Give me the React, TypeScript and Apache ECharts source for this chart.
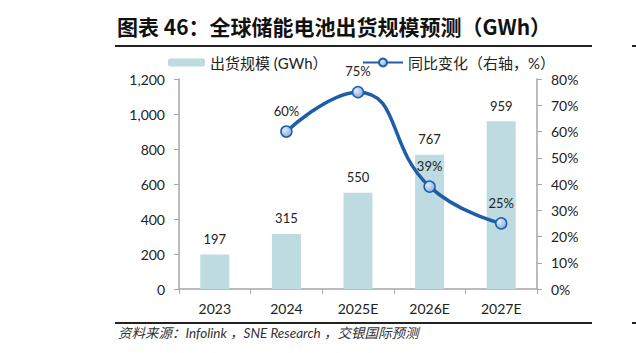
import React, { useEffect, useRef } from "react";
import * as echarts from "echarts";

const categories = ["2023", "2024", "2025E", "2026E", "2027E"];
const shipments = [197, 315, 550, 767, 959];
const yoy = [null, 60, 75, 39, 25];
const leftTicks = { min: 0, max: 1200, interval: 200 };
const rightTicks = { min: 0, max: 80, interval: 10 };
const titleText = "图表 46：全球储能电池出货规模预测（GWh）";
const sourceText = "资料来源：Infolink ，SNE Research ，交银国际预测";
const barName = "出货规模 (GWh）";
const lineName = "同比变化（右轴，%）";

const FONT = "Lato, 'Noto Sans CJK SC', sans-serif";

export default function App() {
  const ref = useRef<HTMLDivElement>(null);
  useEffect(() => {
    document.body.style.margin = "0";
    const chart = echarts.init(ref.current!, null, { renderer: "svg" });
    chart.setOption({
      animation: false,
      backgroundColor: "#ffffff",
      textStyle: { fontFamily: FONT },
      grid: { left: 179, right: 99, top: 79, bottom: 64, containLabel: false },
      legend: [
        {
          data: [barName],
          left: 163,
          top: 50,
          itemWidth: 37,
          itemHeight: 8,
          itemGap: 5,
          textStyle: { fontSize: 15, color: "#222", fontFamily: FONT },
        },
        {
          data: [lineName],
          left: 357,
          top: 50,
          itemWidth: 40,
          itemHeight: 10,
          textStyle: { fontSize: 15, color: "#222", fontFamily: FONT },
        },
      ],
      xAxis: {
        type: "category",
        data: categories,
        axisLine: { lineStyle: { color: "#a6a6a6", width: 1.5 } },
        axisTick: { show: true, length: 5, alignWithLabel: false, lineStyle: { color: "#a6a6a6" } },
        axisLabel: { fontSize: 14, color: "#222", margin: 12, fontFamily: FONT },
      },
      yAxis: [
        {
          type: "value",
          min: leftTicks.min,
          max: leftTicks.max,
          interval: leftTicks.interval,
          splitLine: { show: false },
          axisLine: { show: true, lineStyle: { color: "#a6a6a6", width: 1.5 } },
          axisTick: { show: true, length: 5, lineStyle: { color: "#a6a6a6" } },
          axisLabel: {
            fontSize: 14,
            color: "#222",
            margin: 14,
            fontFamily: FONT,
            formatter: (v: number) => v.toLocaleString("en-US"),
          },
        },
        {
          type: "value",
          min: rightTicks.min,
          max: rightTicks.max,
          interval: rightTicks.interval,
          position: "right",
          splitLine: { show: false },
          axisLine: { show: true, lineStyle: { color: "#a6a6a6", width: 1.5 } },
          axisTick: { show: true, length: 5, lineStyle: { color: "#a6a6a6" } },
          axisLabel: { fontSize: 14, color: "#222", margin: 14, fontFamily: FONT, formatter: "{value}%" },
        },
      ],
      series: [
        {
          name: barName,
          type: "bar",
          data: shipments,
          barWidth: 29,
          itemStyle: { color: "#bddbe0" },
          label: { show: true, position: "top", distance: 9, fontSize: 13, color: "#222", fontFamily: FONT },
        },
        {
          name: lineName,
          type: "line",
          yAxisIndex: 1,
          data: yoy,
          smooth: 0.5,
          symbol: "circle",
          symbolSize: 11,
          lineStyle: { color: "#1f5ea6", width: 3.5 },
          itemStyle: {
            color: new echarts.graphic.RadialGradient(0.35, 0.35, 0.8, [
              { offset: 0, color: "#dfeafa" },
              { offset: 1, color: "#7aa6de" },
            ]),
            borderColor: "#1f5ea6",
            borderWidth: 1.5,
          },
          label: {
            show: true,
            position: "top",
            distance: 8,
            fontSize: 13,
            color: "#222",
            fontFamily: FONT,
            formatter: "{c}%",
          },
        },
      ],
      graphic: [
        {
          type: "text",
          left: 117,
          top: 15,
          style: { text: titleText, fontSize: 21, fontWeight: "bold", fill: "#111", fontFamily: "'Noto Sans CJK SC', sans-serif" },
        },
        { type: "rect", shape: { x: 115, y: 45, width: 477, height: 2 }, style: { fill: "#222" } },
        { type: "rect", shape: { x: 632, y: 45, width: 4, height: 2 }, style: { fill: "#222" } },
        { type: "rect", shape: { x: 115, y: 322, width: 477, height: 2 }, style: { fill: "#222" } },
        { type: "rect", shape: { x: 632, y: 322, width: 4, height: 2 }, style: { fill: "#222" } },
        {
          type: "text",
          left: 118,
          top: 326,
          style: { text: sourceText, fontSize: 13.5, fontStyle: "italic", fill: "#333", fontFamily: FONT },
        },
      ],
    });
    return () => chart.dispose();
  }, []);
  return <div ref={ref} style={{ position: "absolute", left: 0, top: 0, width: 636, height: 353 }} />;
}
